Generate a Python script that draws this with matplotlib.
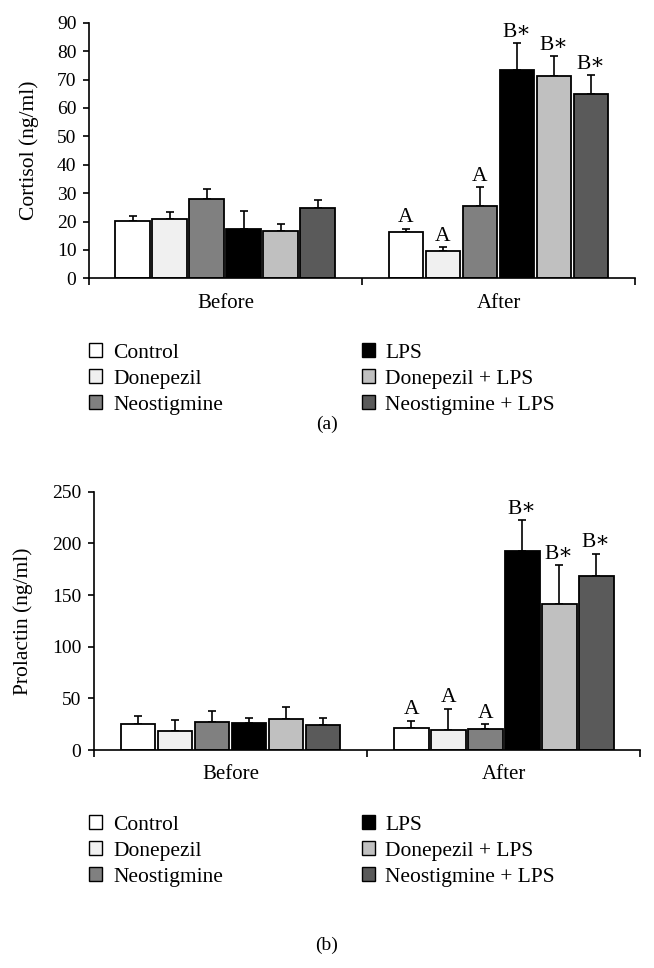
import numpy as np
import matplotlib.pyplot as plt
from matplotlib.patches import Patch

plt.rcParams['font.family'] = ['Liberation Serif', 'DejaVu Serif']

groups = ["Control", "Donepezil", "Neostigmine", "LPS", "Donepezil + LPS", "Neostigmine + LPS"]
colors = ["#ffffff", "#f0f0f0", "#808080", "#000000", "#c0c0c0", "#5a5a5a"]
times = ["Before", "After"]

# cortisol (ng/ml): rows = Before, After
cortisol = [[20.2, 20.9, 28.0, 17.5, 16.7, 24.6],
            [16.2, 9.6, 25.5, 73.5, 71.2, 65.0]]
cortisol_err = [[1.7, 2.5, 3.4, 6.3, 2.5, 2.8],
                [1.3, 1.5, 6.7, 9.4, 7.1, 6.6]]
cortisol_marks = [["", "", "", "", "", ""],
                  ["A", "A", "A", "B∗", "B∗", "B∗"]]

# prolactin (ng/ml)
prolactin = [[25.5, 18.7, 27.0, 26.4, 30.0, 24.5],
             [21.0, 19.4, 20.0, 192.3, 141.0, 168.0]]
prolactin_err = [[7.7, 10.6, 10.8, 4.9, 12.0, 6.2],
                 [7.4, 20.6, 4.9, 30.0, 38.0, 22.0]]
prolactin_marks = [["", "", "", "", "", ""],
                   ["A", "A", "A", "B∗", "B∗", "B∗"]]

fig = plt.figure(figsize=(6.54, 9.68), dpi=100)
fs = 15


def draw(ax, vals, errs, marks, ylim, step, ylabel, labx):
    slot = 0.1355
    w = 0.128
    for i, t in enumerate(times):
        for j in range(len(groups)):
            x = i + (j - 2.5) * slot
            ax.bar(x, vals[i][j], width=w, color=colors[j], edgecolor="black", linewidth=1.3, zorder=2)
            ax.errorbar(x, vals[i][j], yerr=[[0], [errs[i][j]]], fmt="none", ecolor="black",
                        elinewidth=1.2, capsize=3, capthick=1.2, zorder=1)
            if marks[i][j]:
                ax.text(x, vals[i][j] + errs[i][j] + ylim * 0.005, marks[i][j], ha="center", va="bottom",
                        fontsize=fs + 0.5)
    ax.set_xlim(-0.5, 1.5)
    ax.set_ylim(0, ylim)
    ax.set_yticks(np.arange(0, ylim + 1, step))
    ax.set_xticks([-0.5, 0.5, 1.5])
    ax.set_xticklabels([])
    ax.set_xticks([0, 1], minor=True)
    ax.set_xticklabels(times, minor=True, fontsize=fs)
    ax.tick_params(axis="x", which="minor", length=0, pad=11)
    ax.tick_params(axis="x", which="major", length=5, width=1.2, direction="out")
    ax.tick_params(axis="y", length=4, width=1.2, direction="out", labelsize=fs - 1, pad=5)
    for s in ["top", "right"]:
        ax.spines[s].set_visible(False)
    for s in ["left", "bottom"]:
        ax.spines[s].set_linewidth(1.2)
    ax.set_ylabel(ylabel, fontsize=fs + 0.5)
    ax.yaxis.set_label_coords(labx, 0.5)


ax1 = fig.add_axes([0.136, 0.7125, 0.835, 0.264])
draw(ax1, cortisol, cortisol_err, cortisol_marks, 90, 10, "Cortisol (ng/ml)", -0.092)

ax2 = fig.add_axes([0.1437, 0.2252, 0.835, 0.2668])
draw(ax2, prolactin, prolactin_err, prolactin_marks, 250, 50, "Prolactin (ng/ml)", -0.112)

handles = [Patch(facecolor=c, edgecolor="black", linewidth=1.0) for c in colors]
for ymid, lab, ylab in [(1 - 379 / 968, "(a)", 1 - 424 / 968), (1 - 851 / 968, "(b)", 1 - 945 / 968)]:
    fig.legend(handles, groups, ncol=2, loc="center left", bbox_to_anchor=(0.107, ymid),
               frameon=False, fontsize=fs + 0.5, handlelength=0.6, handleheight=0.6,
               handletextpad=0.5, labelspacing=0.3, columnspacing=6.45)
    fig.text(0.5, ylab, lab, ha="center", va="center", fontsize=fs - 1)

fig.savefig("out.png", dpi=100)
